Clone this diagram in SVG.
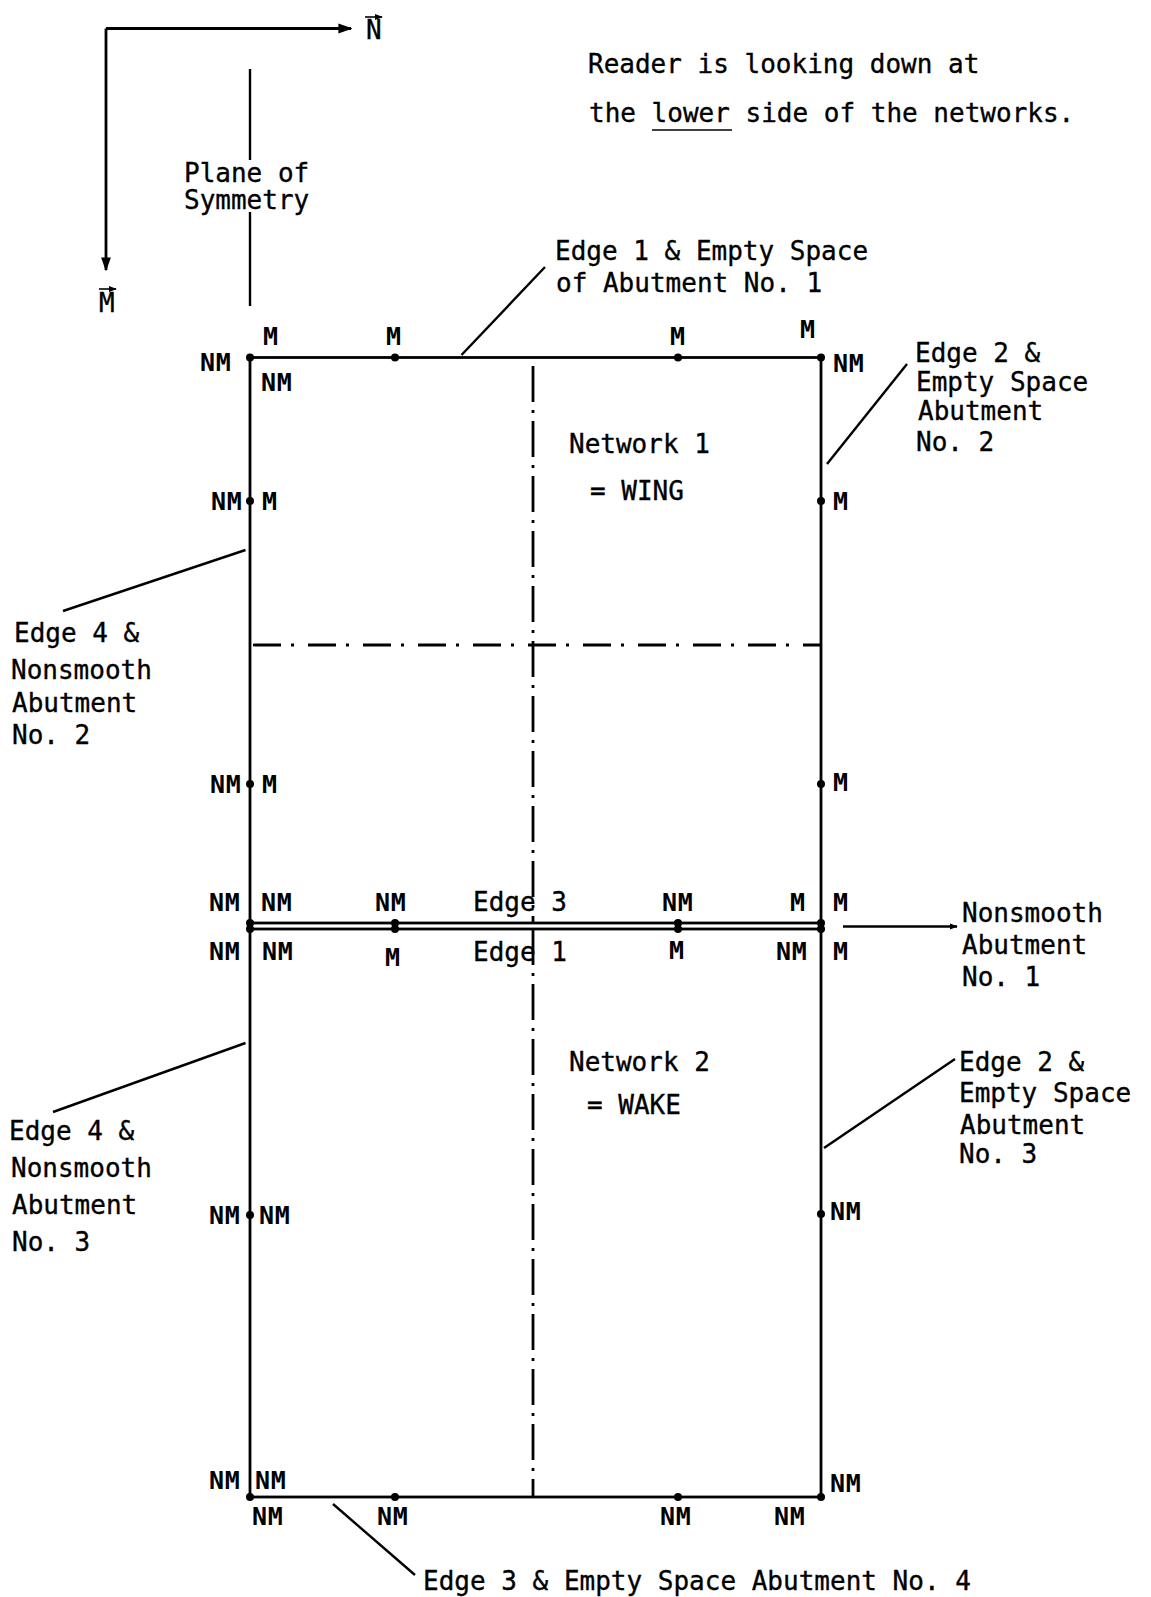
<svg xmlns="http://www.w3.org/2000/svg" width="1151" height="1597" viewBox="0 0 1151 1597">
<defs>
<style>
text{font-family:"DejaVu Sans Mono","Liberation Mono",monospace;font-size:26px;fill:#000;stroke:#000;stroke-width:0.35}
.b{font-weight:bold;font-size:25px;letter-spacing:0.8px;stroke-width:0}
.ln{stroke:#000;stroke-width:2.8;fill:none}
.th{stroke:#000;stroke-width:2.4;fill:none}
.dv{stroke:#000;stroke-width:2.8;fill:none;stroke-dasharray:36 8 3 8}
.dh{stroke:#000;stroke-width:2.8;fill:none;stroke-dasharray:28 10 3 14}
.dot{fill:#000}
</style>
<marker id="ah" viewBox="0 0 10 10" refX="9" refY="5" markerWidth="8" markerHeight="8" markerUnits="userSpaceOnUse" orient="auto"><path d="M0,1 L10,5 L0,9 z" fill="#000"/></marker>
<marker id="ahBig" viewBox="0 0 10 10" refX="9" refY="5" markerWidth="14" markerHeight="14" markerUnits="userSpaceOnUse" orient="auto"><path d="M0,1.5 L10,5 L0,8.5 z" fill="#000"/></marker>
</defs>

<g id="axes">
<path class="ln" d="M106,28.5 H351" marker-end="url(#ahBig)"/>
<path class="ln" d="M106,28.5 V270" marker-end="url(#ahBig)"/>
<text x="366" y="39">N</text>
<path stroke="#000" stroke-width="1.6" d="M365,17 H382" marker-end="url(#ah)"/>
<text x="99" y="312">M</text>
<path stroke="#000" stroke-width="1.6" d="M99,289 H116" marker-end="url(#ah)"/>
</g>

<g id="plane-of-symmetry">
<line class="th" x1="250" y1="69" x2="250" y2="160"/>
<line class="th" x1="250" y1="212" x2="250" y2="306"/>
<text x="184" y="182">Plane of</text>
<text x="184" y="209">Symmetry</text>
</g>

<g id="note">
<text x="588" y="73">Reader is looking down at</text>
<text x="589" y="122">the lower side of the networks.</text>
<line stroke="#000" stroke-width="1.6" x1="652" y1="130" x2="732" y2="130"/>
</g>

<g id="network1">
<rect class="ln" x="250" y="357.5" width="571" height="565.5"/>
<line class="dv" x1="533" y1="366" x2="533" y2="923"/>
<line class="dh" x1="253" y1="645" x2="821" y2="645"/>
<text x="569" y="453">Network 1</text>
<text x="590" y="500">= WING</text>
<g class="dot">
<circle cx="250" cy="357.5" r="4"/><circle cx="395" cy="357.5" r="4"/><circle cx="678" cy="357.5" r="4"/><circle cx="821" cy="357.5" r="4"/>
<circle cx="250" cy="501" r="4"/><circle cx="250" cy="784" r="4"/>
<circle cx="821" cy="501" r="4"/><circle cx="821" cy="784" r="4"/>
<circle cx="250" cy="923" r="4"/><circle cx="395" cy="923" r="4"/><circle cx="678" cy="923" r="4"/><circle cx="821" cy="923" r="4"/>
</g>
<text class="b" x="263" y="345">M</text>
<text class="b" x="386" y="345">M</text>
<text class="b" x="670" y="345">M</text>
<text class="b" x="800" y="338">M</text>
<text class="b" x="200" y="371">NM</text>
<text class="b" x="261" y="391">NM</text>
<text class="b" x="833" y="372">NM</text>
<text class="b" x="211" y="510">NM</text>
<text class="b" x="262" y="510">M</text>
<text class="b" x="833" y="510">M</text>
<text class="b" x="210" y="793">NM</text>
<text class="b" x="262" y="793">M</text>
<text class="b" x="833" y="791">M</text>
<text class="b" x="209" y="911">NM</text>
<text class="b" x="261" y="911">NM</text>
<text class="b" x="375" y="911">NM</text>
<text x="473" y="911">Edge 3</text>
<text class="b" x="662" y="911">NM</text>
<text class="b" x="790" y="911">M</text>
<text class="b" x="833" y="911">M</text>
</g>

<g id="network2">
<rect class="ln" x="250" y="929" width="571" height="568"/>
<line class="dv" x1="533" y1="929" x2="533" y2="1497"/>
<text x="569" y="1071">Network 2</text>
<text x="587" y="1114">= WAKE</text>
<g class="dot">
<circle cx="250" cy="929" r="4"/><circle cx="395" cy="929" r="4"/><circle cx="678" cy="929" r="4"/><circle cx="821" cy="929" r="4"/>
<circle cx="250" cy="1215" r="4"/><circle cx="821" cy="1214" r="4"/>
<circle cx="250" cy="1497" r="4"/><circle cx="395" cy="1497" r="4"/><circle cx="678" cy="1497" r="4"/><circle cx="821" cy="1497" r="4"/>
</g>
<text class="b" x="209" y="960">NM</text>
<text class="b" x="262" y="960">NM</text>
<text class="b" x="385" y="966">M</text>
<text x="473" y="961">Edge 1</text>
<text class="b" x="669" y="959">M</text>
<text class="b" x="776" y="960">NM</text>
<text class="b" x="833" y="960">M</text>
<text class="b" x="209" y="1224">NM</text>
<text class="b" x="259" y="1224">NM</text>
<text class="b" x="830" y="1220">NM</text>
<text class="b" x="209" y="1489">NM</text>
<text class="b" x="255" y="1489">NM</text>
<text class="b" x="830" y="1492">NM</text>
<text class="b" x="252" y="1525">NM</text>
<text class="b" x="377" y="1525">NM</text>
<text class="b" x="660" y="1525">NM</text>
<text class="b" x="774" y="1525">NM</text>
</g>

<g id="labels">
<text x="555" y="260">Edge 1 &amp; Empty Space</text>
<text x="556" y="292">of Abutment No. 1</text>
<text x="915" y="362">Edge 2 &amp;</text>
<text x="916" y="391">Empty Space</text>
<text x="918" y="420">Abutment</text>
<text x="916" y="451">No. 2</text>
<text x="14" y="642">Edge 4 &amp;</text>
<text x="11" y="679">Nonsmooth</text>
<text x="12" y="712">Abutment</text>
<text x="12" y="744">No. 2</text>
<text x="962" y="922">Nonsmooth</text>
<text x="962" y="954">Abutment</text>
<text x="962" y="986">No. 1</text>
<text x="9" y="1140">Edge 4 &amp;</text>
<text x="11" y="1177">Nonsmooth</text>
<text x="12" y="1214">Abutment</text>
<text x="12" y="1251">No. 3</text>
<text x="959" y="1071">Edge 2 &amp;</text>
<text x="959" y="1102">Empty Space</text>
<text x="960" y="1134">Abutment</text>
<text x="959" y="1163">No. 3</text>
<text x="423" y="1590">Edge 3 &amp; Empty Space Abutment No. 4</text>
</g>

<g id="connectors">
<line class="th" x1="461.5" y1="355" x2="545" y2="267"/>
<line class="th" x1="827" y1="464" x2="907" y2="364"/>
<line class="th" x1="245.5" y1="550" x2="63" y2="611"/>
<path class="th" d="M843,926.5 H957" marker-end="url(#ah)"/>
<line class="th" x1="245.5" y1="1043" x2="53" y2="1112"/>
<line class="th" x1="824" y1="1148" x2="955" y2="1059"/>
<line class="th" x1="333" y1="1504" x2="415" y2="1575"/>
</g>
</svg>
